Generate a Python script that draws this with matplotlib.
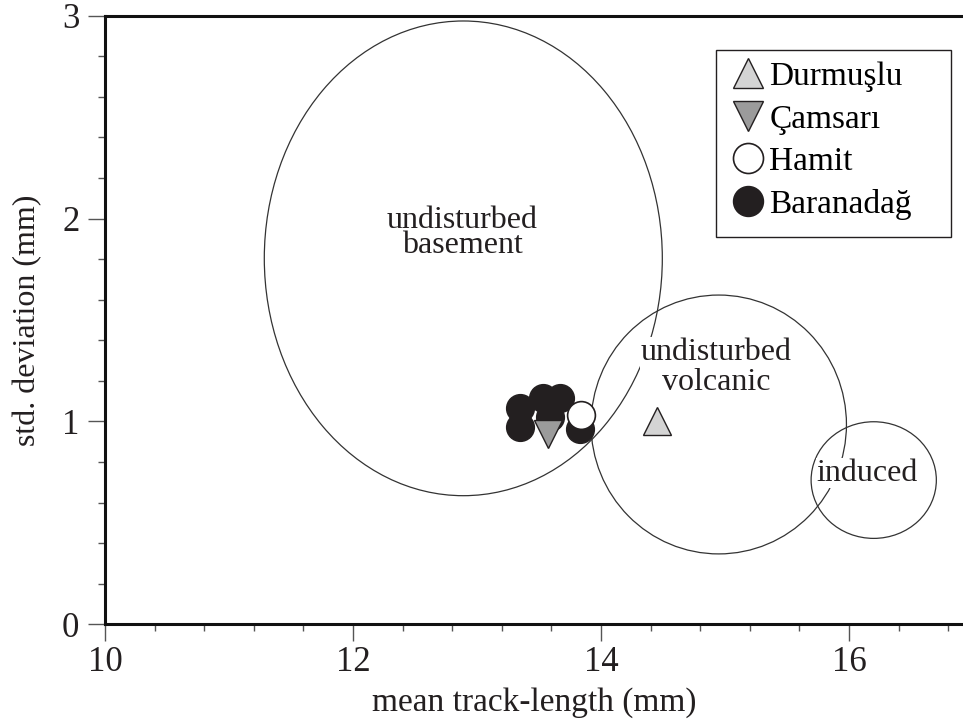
import matplotlib.pyplot as plt
from matplotlib.patches import Ellipse, Rectangle
from matplotlib.ticker import MultipleLocator

plt.rcParams['font.family'] = ['Liberation Serif', 'DejaVu Serif']

# поля (центр x, центр y, ширина, высота, подпись, положение подписи)
field_names = ['undisturbed\nbasement', 'undisturbed\nvolcanic', 'induced']
field_cx = [12.89, 14.95, 16.20]
field_cy = [1.804, 0.985, 0.711]
field_w = [3.21, 2.06, 1.01]
field_h = [2.34, 1.276, 0.575]
label_x = [12.88, 14.93, 16.15]
label_y = [1.93, 1.266, 0.745]
label_ls = [0.83, 1.05, 1.0]

# точки по месторождениям
durmuslu_x = [14.455]
durmuslu_y = [1.0]
camsari_x = [13.57]
camsari_y = [0.94]
hamit_x = [13.84]
hamit_y = [1.03]
baranadag_x = [13.35, 13.35, 13.53, 13.67, 13.59, 13.83]
baranadag_y = [1.066, 0.973, 1.115, 1.115, 1.02, 0.965]

fig = plt.figure(figsize=(9.63, 7.24), dpi=100)
ax = fig.add_axes([0.109, 0.1377, 0.891, 0.8406])

for cx, cy, w, h in zip(field_cx, field_cy, field_w, field_h):
    ax.add_patch(Ellipse((cx, cy), w, h, fill=False, edgecolor='#333333', lw=0.9, zorder=1))

for name, tx, ty, ls in zip(field_names, label_x, label_y, label_ls):
    ax.text(tx, ty, name, ha='center', va='center', fontsize=23, color='#231f20',
            linespacing=ls, zorder=2,
            bbox=dict(facecolor='white', edgecolor='none', pad=0.5))

ax.plot(baranadag_x, baranadag_y, 'o', ms=20, mfc='#231f20', mec='#231f20', zorder=3,
        label='Baranadağ')
ax.plot(durmuslu_x, durmuslu_y, '^', ms=20, mfc='#d4d4d4', mec='#231f20', mew=1.0, zorder=4,
        label='Durmuşlu')
ax.plot(camsari_x, camsari_y, 'v', ms=20, mfc='#9b9b9b', mec='#231f20', mew=1.0, zorder=4,
        label='Çamsarı')
ax.plot(hamit_x, hamit_y, 'o', ms=20, mfc='white', mec='#231f20', mew=1.2, zorder=5,
        label='Hamit')

# легенда без рамки, рамка рисуется отдельно (с широким правым полем)
handles, labels = ax.get_legend_handles_labels()
order = [1, 2, 3, 0]
leg = ax.legend([handles[i] for i in order], [labels[i] for i in order],
                loc='upper left', bbox_to_anchor=(0.712, 0.9437), fontsize=24,
                frameon=False, handletextpad=0.05, handlelength=1.2,
                labelspacing=0.36, borderpad=0.35, borderaxespad=0, markerscale=1.08)
ax.add_patch(Rectangle((0.712, 0.6364), 0.274, 0.3073, transform=ax.transAxes,
                       fill=False, edgecolor='#231f20', lw=1.0, zorder=6))

ax.set_xlim(10, 16.92)
ax.set_ylim(0, 3)
ax.xaxis.set_major_locator(MultipleLocator(2))
ax.xaxis.set_minor_locator(MultipleLocator(0.4))
ax.yaxis.set_major_locator(MultipleLocator(1))
ax.yaxis.set_minor_locator(MultipleLocator(0.2))
ax.tick_params(which='major', length=12.5, width=1.0, color='#555555', labelsize=25,
               labelcolor='#231f20')
ax.tick_params(axis='x', which='major', pad=3)
ax.tick_params(axis='y', which='major', pad=6)
ax.tick_params(which='minor', length=5, width=1.0, color='#555555')

ax.spines['right'].set_visible(False)
for s in ['left', 'bottom', 'top']:
    ax.spines[s].set_linewidth(2.2)
    ax.spines[s].set_color('#111111')

ax.set_xlabel('mean track-length (mm)', fontsize=24, color='#231f20', labelpad=6)
ax.set_ylabel('std. deviation (mm)', fontsize=23, color='#231f20', labelpad=14)

fig.savefig('out.png', dpi=100)
